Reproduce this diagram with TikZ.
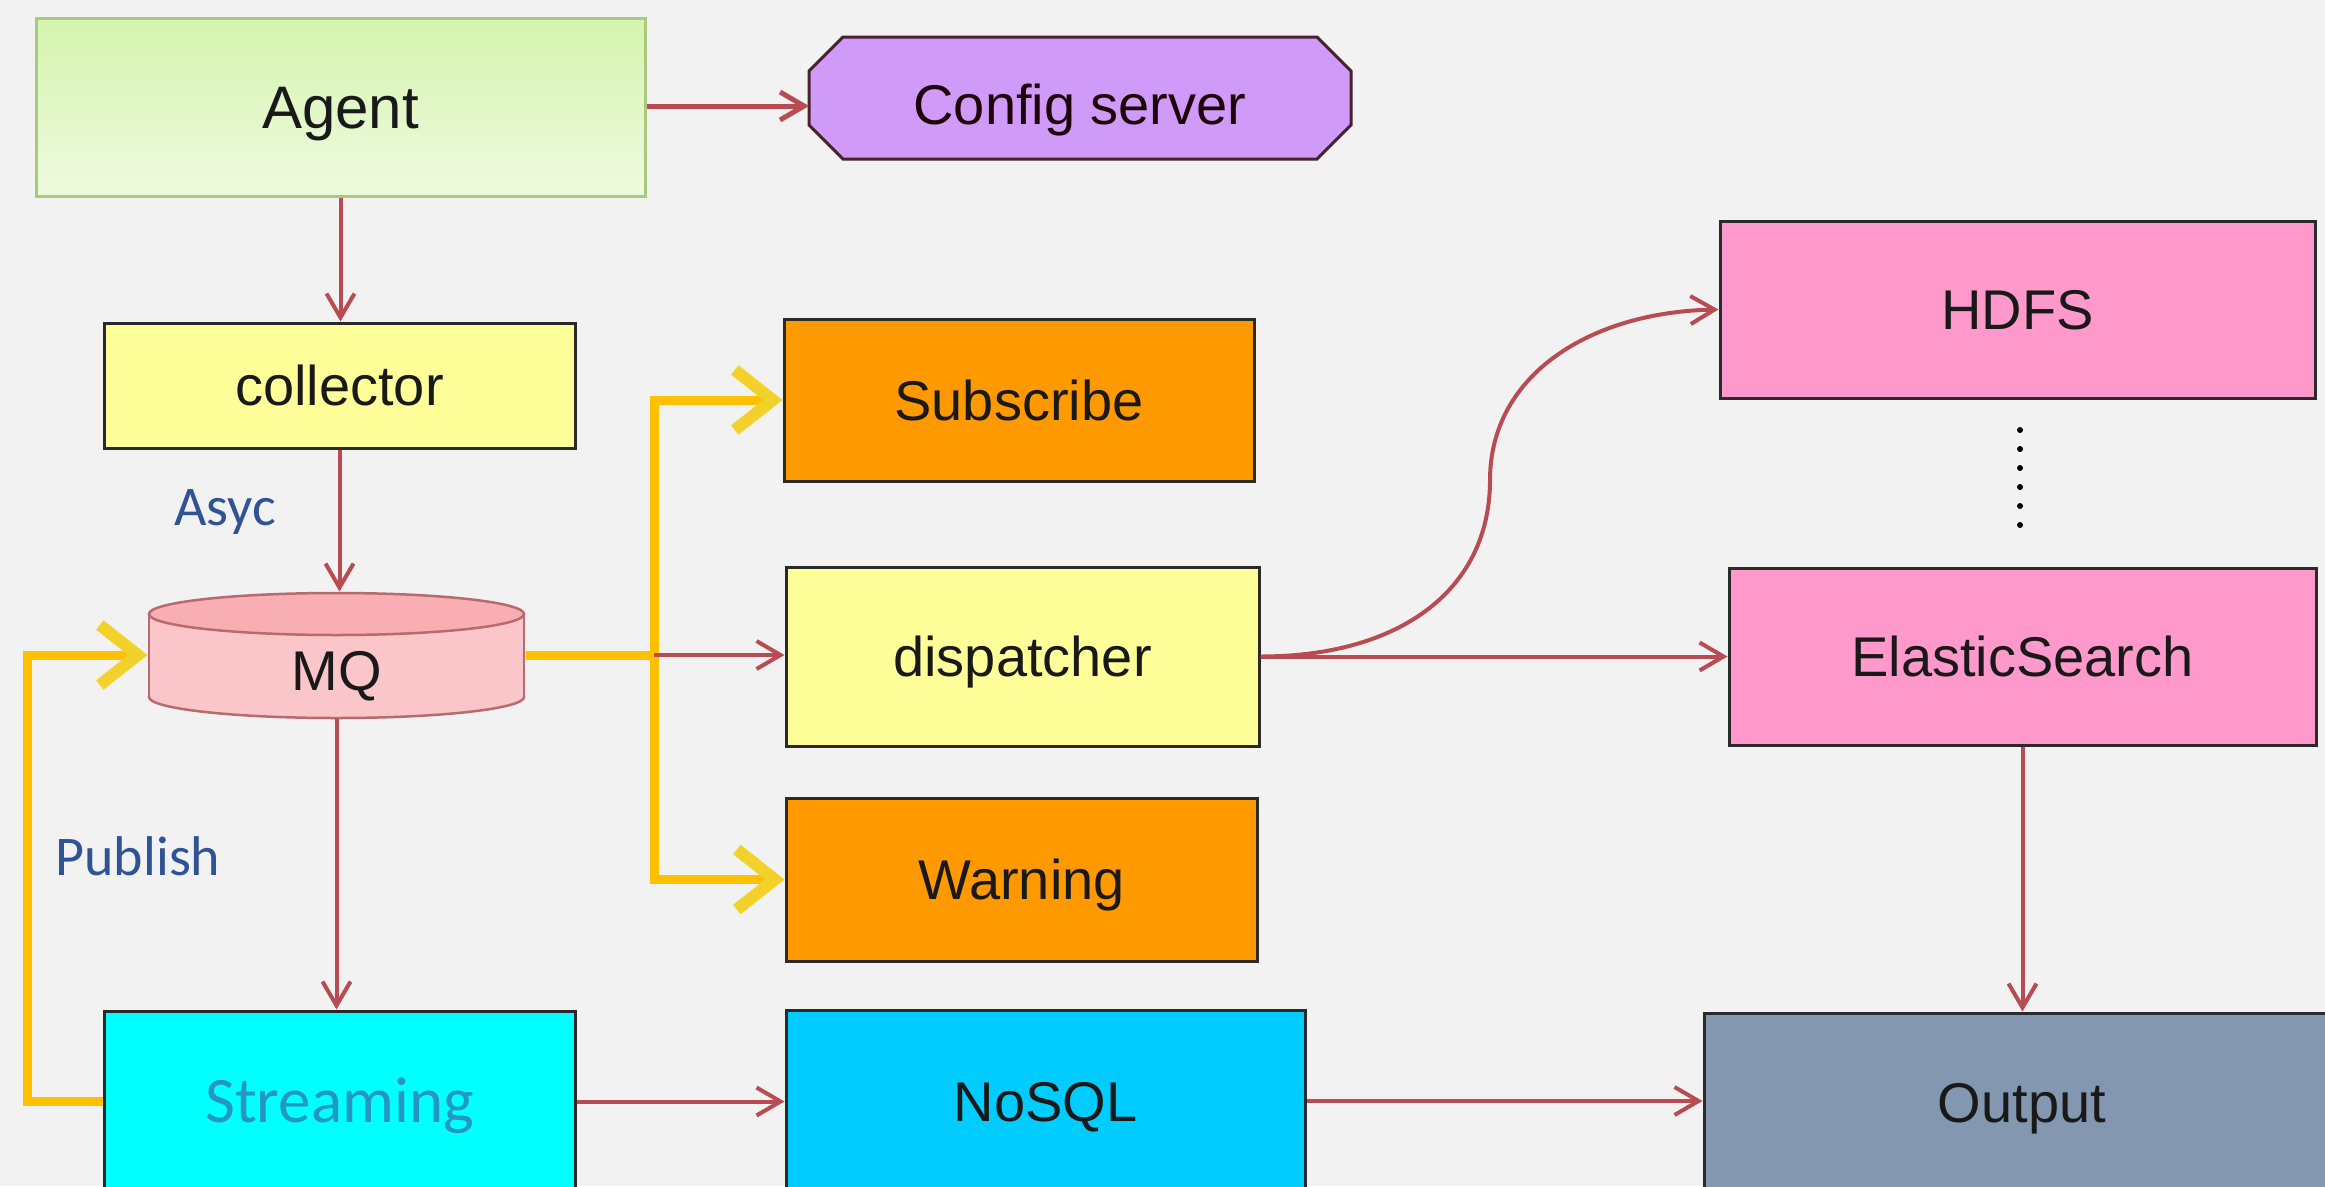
\documentclass[tikz,border=0pt]{standalone}
\usepackage{fontspec}
\setmainfont{Liberation Sans}
\newfontfamily\calib{Carlito}
\usetikzlibrary{arrows.meta}
\definecolor{bgc}{HTML}{F2F2F2}
\definecolor{redc}{HTML}{B94B52}
\definecolor{yelc}{HTML}{FFC000}
\definecolor{yelhead}{HTML}{F2D22A}
\definecolor{agtop}{HTML}{D5F4AE}
\definecolor{agbot}{HTML}{EEFADF}
\definecolor{agborder}{HTML}{A9C97C}
\definecolor{purp}{HTML}{D09BF8}
\definecolor{lightyel}{HTML}{FFFF99}
\definecolor{orng}{HTML}{FF9900}
\definecolor{pinkbox}{HTML}{FF99CC}
\definecolor{mqbody}{HTML}{FBC6CA}
\definecolor{mqtop}{HTML}{F9AEB4}
\definecolor{mqborder}{HTML}{B86A6C}
\definecolor{cyanbox}{HTML}{00FFFF}
\definecolor{nosqlc}{HTML}{00CCFF}
\definecolor{outc}{HTML}{8497B0}
\definecolor{labelblue}{HTML}{2F5496}
\definecolor{streamtxt}{HTML}{2496C0}
\definecolor{darkline}{HTML}{2A2A2A}
\begin{document}
\begin{tikzpicture}[x=1pt,y=-1pt,
  box/.style={rectangle, draw=darkline, line width=3pt, inner sep=0pt,
    font=\fontsize{56}{62}\selectfont, text=black!90, text height=40pt, text depth=0pt},
  redarrow/.style={draw=redc, line width=4pt, -{Straight Barb[length=24pt,width=28pt]}},
  yel/.style={draw=yelc, line width=9pt},
  yelarrow/.style={draw=yelc, line width=9pt, -{Straight Barb[length=38pt,width=60pt,line width=12pt,color=yelhead]}},
  lbl/.style={font=\calib\fontsize{56}{62}\selectfont, text=labelblue, inner sep=0pt, text height=36pt, text depth=0pt}
]
\fill[bgc] (0,0) rectangle (2325,1186);
\useasboundingbox (0,0) rectangle (2325,1186);

% Agent
\node[box, draw=agborder, top color=agtop, bottom color=agbot, minimum width=609pt, minimum height=178pt,
  font=\fontsize{60}{66}\selectfont, text height=43pt] (agent) at (340.5,107) {Agent};

% Config server (chamfered)
\filldraw[fill=purp, draw=darkline!80!purple, line width=3pt]
  (843,37) -- (1317,37) -- (1351,71) -- (1351,125) -- (1317,159) -- (843,159) -- (809,125) -- (809,71) -- cycle;
\node[box, draw=none, minimum width=542pt, minimum height=122pt, text=black!85!purple] (config) at (1080,104) {Config server};

% collector
\node[box, fill=lightyel, minimum width=471pt, minimum height=125pt] (collector) at (339.5,385.5) {collector};

% MQ cylinder
\filldraw[fill=mqbody, draw=mqborder, line width=2.5pt] (336.5,697) ellipse[x radius=187.5pt, y radius=21pt];
\fill[mqbody] (149,614) rectangle (524,697);
\draw[mqborder, line width=2.5pt] (149,614) -- (149,697) (524,614) -- (524,697);
\filldraw[fill=mqtop, draw=mqborder, line width=2.5pt] (336.5,614) ellipse[x radius=187.5pt, y radius=21pt];
\node[box, draw=none, minimum width=375pt, minimum height=124pt] (mq) at (336.5,655) {};
\node[box, draw=none] (mqtext) at (336.5,670) {MQ};

% middle column
\node[box, fill=orng, minimum width=470pt, minimum height=162pt] (subscribe) at (1019,400) {Subscribe};
\node[box, fill=lightyel, minimum width=473pt, minimum height=179pt] (dispatcher) at (1022.5,656.5) {dispatcher};
\node[box, fill=orng, minimum width=471pt, minimum height=163pt] (warning) at (1021.5,879.5) {Warning};

% right column
\node[box, fill=pinkbox, minimum width=595pt, minimum height=177pt] (hdfs) at (2017.5,309.5) {HDFS};
\node[box, fill=pinkbox, minimum width=587pt, minimum height=177pt] (es) at (2022.5,656.5) {ElasticSearch};

% bottom row
\node[box, fill=cyanbox, minimum width=471pt, minimum height=181pt, text=streamtxt,
  font=\calib\fontsize{65}{70}\selectfont, text height=42pt] (streaming) at (339.5,1101.5) {Streaming};
\node[box, fill=nosqlc, minimum width=519pt, minimum height=182pt] (nosql) at (1045.5,1101) {NoSQL};
\node[box, fill=outc, minimum width=636pt, minimum height=179pt] (output) at (2022,1102.5) {Output};

% labels
\node[lbl] (asyc) at (225,507) {Asyc};
\node[lbl] (publish) at (138,857) {Publish};

% dots between HDFS and ElasticSearch
\coordinate (d1) at (2020,430);
\coordinate (d2) at (2020,526);
\draw[black, line width=6pt, line cap=round, dash pattern=on 0pt off 19pt] (d1) -- (d2);

% red connectors
\draw[redarrow] (agent.south) -- (agent.south |- collector.north);
\draw[redarrow, line width=5pt] (agent.east |- 0,106) -- (809,106) coordinate (cfgin);
\draw[redarrow] (collector.south) -- (collector.south |- mq.north);
\draw[redarrow] (mq.south) -- (mq.south |- streaming.north);
\draw[redarrow] (streaming.east) -- (streaming.east -| nosql.west);
\draw[redarrow] (nosql.east) -- (nosql.east -| output.west);
\draw[redarrow] (dispatcher.east) -- (dispatcher.east -| es.west);
\draw[redarrow] (dispatcher.east) .. controls (1400,656.5) and (1490,590) .. (1490,480)
  .. controls (1490,375) and (1590,312) .. (hdfs.west);
\draw[redarrow] (es.south) -- (es.south |- output.north);

% yellow connectors
\coordinate (jn) at (654,655);
\draw[yel] (mq.east) -- (jn);
\draw[yelarrow] (jn) -- (jn |- subscribe.west) -- (subscribe.west);
\draw[yelarrow] (jn) -- (jn |- warning.west) -- (warning.west);
\draw[yelarrow] (streaming.west) -- ++(-75,0) |- (mq.west);
\draw[redarrow] (jn) -- (jn -| dispatcher.west);
\end{tikzpicture}
\end{document}
